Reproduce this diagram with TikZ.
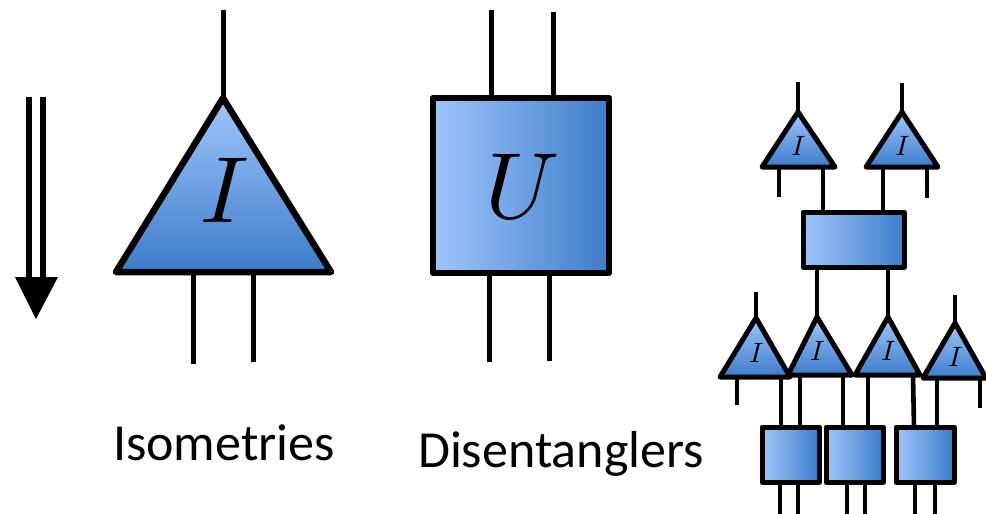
\documentclass[tikz,border=0pt]{standalone}
\usepackage{fontspec}
\setmainfont{Carlito}
\usepackage{unicode-math}
\setmathfont{Latin Modern Math}
\begin{document}
\begin{tikzpicture}[x=1pt,y=-1pt,line join=round,
  tri/.style={draw=black,line width=6.5pt,top color=lightblue,bottom color=darkblue},
  stri/.style={draw=black,line width=5pt,top color=lightblue,bottom color=darkblue},
  box/.style={draw=black,line width=6.5pt,left color=lightblue,right color=darkblue},
  sbox/.style={draw=black,line width=5pt,left color=lightblue,right color=darkblue},
  wire/.style={line width=5pt,black},
  swire/.style={line width=4.6pt,black},
  lbl/.style={font=\fontsize{52}{52}\selectfont,anchor=base}]
\definecolor{lightblue}{HTML}{A0C6FB}
\definecolor{darkblue}{HTML}{3D7CCA}
\useasboundingbox (0,0) rectangle (986,514);

% arrow
\coordinate (a1) at (29,97); \coordinate (a1e) at (29,280);
\coordinate (a2) at (43,97); \coordinate (a2e) at (43,280);
\draw[line width=6pt] (a1) -- (a1e);
\draw[line width=6pt] (a2) -- (a2e);
\coordinate (ah1) at (15,277); \coordinate (ah2) at (58,277); \coordinate (ahtip) at (36,319);
\fill[black] (ah1) -- (ah2) -- (ahtip) -- cycle;

% big isometry
\coordinate (Iapex) at (223,98); \coordinate (Il) at (116,272); \coordinate (Ir) at (331,272);
\coordinate (Itop) at (223,10);
\coordinate (Ib1) at (193,272); \coordinate (Ib1e) at (193,364);
\coordinate (Ib2) at (253,272); \coordinate (Ib2e) at (253,362);
\draw[wire] (Itop) -- (Iapex);
\draw[wire] (Ib1) -- (Ib1e);
\draw[wire] (Ib2) -- (Ib2e);
\draw[tri] (Iapex) -- (Ir) -- (Il) -- cycle;
\node (Ilab) at (225,190) {\fontsize{94}{94}\selectfont$I$};

% big disentangler
\coordinate (Ut1) at (491,10); \coordinate (Ut1e) at (491,97);
\coordinate (Ut2) at (553,12); \coordinate (Ut2e) at (553,97);
\coordinate (Ub1) at (489,273); \coordinate (Ub1e) at (489,362);
\coordinate (Ub2) at (549,273); \coordinate (Ub2e) at (549,361);
\draw[wire] (Ut1) -- (Ut1e);
\draw[wire] (Ut2) -- (Ut2e);
\draw[wire] (Ub1) -- (Ub1e);
\draw[wire] (Ub2) -- (Ub2e);
\coordinate (U1) at (433,98); \coordinate (U2) at (609,273);
\draw[box] (U1) rectangle (U2);
\node (Ulab) at (523,187) {\fontsize{94}{94}\selectfont$U$};

% labels
\node[lbl] (iso) at (224,460) {Isometries};
\node[lbl] (dis) at (561,467) {Disentanglers};

% ---------- network ----------
% top isometries
\coordinate (ta) at (798,112); \coordinate (tal) at (762,167); \coordinate (tar) at (835,167);
\coordinate (tatop) at (798,82);
\coordinate (tab1) at (779,167); \coordinate (tab1e) at (779,197);
\coordinate (tab2) at (823,167);
\coordinate (tb) at (902,112); \coordinate (tbl) at (866,167); \coordinate (tbr) at (938,167);
\coordinate (tbtop) at (902,83);
\coordinate (tbb1) at (883,167);
\coordinate (tbb2) at (927,167); \coordinate (tbb2e) at (927,198);
% middle disentangler
\coordinate (m1) at (803,212); \coordinate (m2) at (904,267);
\coordinate (mt1) at (823,212); \coordinate (mt2) at (883,212);
\coordinate (mb1) at (817,267); \coordinate (mb2) at (888,267);

\draw[swire] (tatop) -- (ta);
\draw[swire] (tbtop) -- (tb);
\draw[swire] (tab1) -- (tab1e);
\draw[swire] (tab2) -- (mt1);
\draw[swire] (tbb1) -- (mt2);
\draw[swire] (tbb2) -- (tbb2e);

% lower isometries
\coordinate (la) at (756,318); \coordinate (lal) at (720,377); \coordinate (lar) at (790,377);
\coordinate (latop) at (756,292);
\coordinate (lb) at (817,317); \coordinate (lbl) at (788,375); \coordinate (lbr) at (852,375);
\coordinate (lc) at (888,317); \coordinate (lcl) at (855,375); \coordinate (lcr) at (920,375);
\coordinate (ld) at (955,323); \coordinate (ldl) at (923,378); \coordinate (ldr) at (986,378);
\coordinate (ldtop) at (955,295);

\draw[swire] (latop) -- (la);
\draw[swire] (ldtop) -- (ld);
\draw[swire] (mb1) -- (lb);
\draw[swire] (mb2) -- (lc);

% lower disentanglers
\coordinate (b1a) at (762,427); \coordinate (b1b) at (819,482);
\coordinate (b2a) at (826,427); \coordinate (b2b) at (883,482);
\coordinate (b3a) at (896,427); \coordinate (b3b) at (954,482);

% wires between lower isometries and boxes
\coordinate (w1a) at (737,377); \coordinate (w1b) at (737,405);
\coordinate (w2a) at (781,377); \coordinate (w2b) at (781,427);
\coordinate (w3a) at (800,375); \coordinate (w3b) at (800,427);
\coordinate (w4a) at (843,375); \coordinate (w4b) at (843,427);
\coordinate (w5a) at (868,375); \coordinate (w5b) at (868,427);
\coordinate (w6a) at (913,375); \coordinate (w6b) at (914,427);
\coordinate (w7a) at (937,378); \coordinate (w7b) at (937,427);
\coordinate (w8a) at (980,378); \coordinate (w8b) at (980,408);
\foreach \p in {1,...,8} {\draw[swire] (w\p a) -- (w\p b);}

% bottom wires
\coordinate (o1) at (780,482); \coordinate (o1e) at (780,514);
\coordinate (o2) at (798,482); \coordinate (o2e) at (798,514);
\coordinate (o3) at (847,482); \coordinate (o3e) at (847,514);
\coordinate (o4) at (865,482); \coordinate (o4e) at (865,514);
\coordinate (o5) at (915,482); \coordinate (o5e) at (915,514);
\coordinate (o6) at (935,482); \coordinate (o6e) at (935,514);
\foreach \p in {1,...,6} {\draw[swire] (o\p) -- (o\p e);}

% shapes on top
\draw[stri] (ta) -- (tar) -- (tal) -- cycle;
\draw[stri] (tb) -- (tbr) -- (tbl) -- cycle;
\draw[sbox] (m1) rectangle (m2);
\draw[stri] (la) -- (lar) -- (lal) -- cycle;
\draw[stri] (lb) -- (lbr) -- (lbl) -- cycle;
\draw[stri] (lc) -- (lcr) -- (lcl) -- cycle;
\draw[stri] (ld) -- (ldr) -- (ldl) -- cycle;
\draw[sbox] (b1a) rectangle (b1b);
\draw[sbox] (b2a) rectangle (b2b);
\draw[sbox] (b3a) rectangle (b3b);

\foreach \n/\x/\y in {ia/799/146, ib/903/146, ic/757/353, id/818/351, ie/889/351, iff/956/357}
  \node (\n) at (\x,\y) {\fontsize{28}{28}\selectfont$I$};
\end{tikzpicture}
\end{document}
